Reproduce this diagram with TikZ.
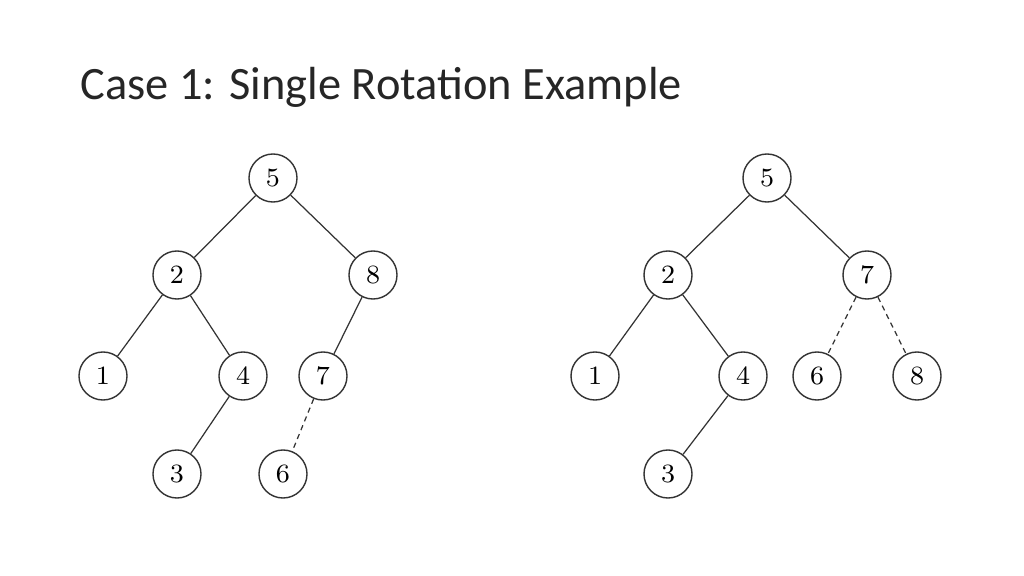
\documentclass[tikz,border=0pt]{standalone}
\usepackage{fontspec}
\newfontfamily\titlefont{Carlito}
\usetikzlibrary{positioning}

\begin{document}
\begin{tikzpicture}[x=0.01cm, y=-0.01cm,
    treenode/.style={circle, draw=black!80, line width=0.4pt, minimum size=0.48cm, inner sep=0pt, font=\fontsize{7.5}{8}\selectfont},
    edge/.style={black!80, line width=0.35pt},
    dashededge/.style={black!80, line width=0.35pt, dash pattern=on 1.5pt off 1.2pt}]
    \useasboundingbox (0,0) rectangle (1024,576);
    \node[anchor=base west, inner sep=0pt, text=black!85, font=\titlefont\fontsize{13.2}{16}\selectfont] (title) at (80,100) {Case 1: Single Rotation Example};

    % Tree before
    \node[treenode] (L5) at (273,178) {5};
    \node[treenode] (L2) at (177,275) {2};
    \node[treenode] (L8) at (373,275) {8};
    \node[treenode] (L1) at (103,376) {1};
    \node[treenode] (L4) at (243,376) {4};
    \node[treenode] (L7) at (323,376) {7};
    \node[treenode] (L3) at (177,474) {3};
    \node[treenode] (L6) at (283,474) {6};

    \draw[edge] (L5) -- (L2);
    \draw[edge] (L5) -- (L8);
    \draw[edge] (L2) -- (L1);
    \draw[edge] (L2) -- (L4);
    \draw[edge] (L4) -- (L3);
    \draw[edge] (L8) -- (L7);
    \draw[dashededge] (L7) -- (L6);

    % Tree after
    \node[treenode] (R5) at (767,178) {5};
    \node[treenode] (R2) at (668,275) {2};
    \node[treenode] (R7) at (867,275) {7};
    \node[treenode] (R1) at (595,376) {1};
    \node[treenode] (R4) at (743,376) {4};
    \node[treenode] (R6) at (817,376) {6};
    \node[treenode] (R8) at (917,376) {8};
    \node[treenode] (R3) at (668,474) {3};

    \draw[edge] (R5) -- (R2);
    \draw[edge] (R5) -- (R7);
    \draw[edge] (R2) -- (R1);
    \draw[edge] (R2) -- (R4);
    \draw[edge] (R4) -- (R3);
    \draw[dashededge] (R7) -- (R6);
    \draw[dashededge] (R7) -- (R8);
\end{tikzpicture}
\end{document}
